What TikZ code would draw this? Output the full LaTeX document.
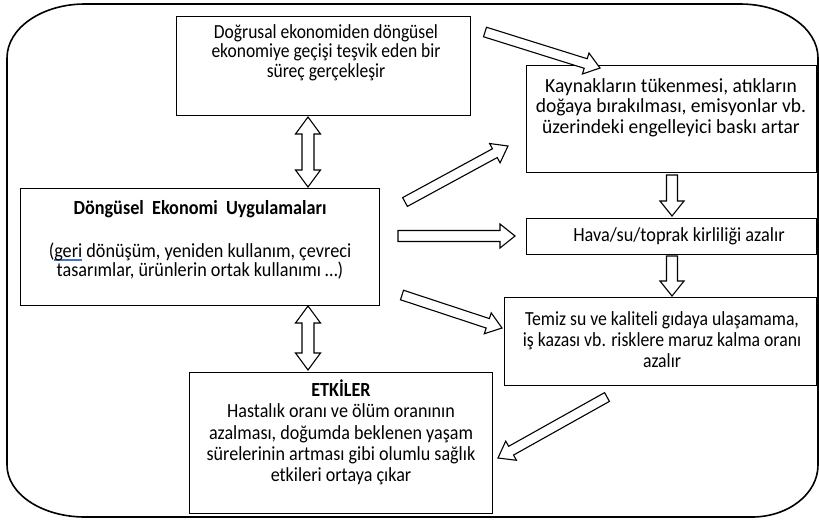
\documentclass[tikz,border=0pt]{standalone}
\usepackage{fontspec}
\setmainfont{Carlito}
\newfontfamily\fa[FakeStretch=0.875]{Carlito}
\newfontfamily\fb[FakeStretch=0.975]{Carlito}
\newfontfamily\fc[FakeStretch=0.91]{Carlito}
\newfontfamily\fd[FakeStretch=0.915]{Carlito}
\newfontfamily\fe[FakeStretch=0.885]{Carlito}
\newfontfamily\ff[FakeStretch=0.905]{Carlito}
\usetikzlibrary{calc}
\definecolor{squig}{HTML}{4472C4}
\newcommand\squigul[1]{\setbox0\hbox{#1}\rlap{\textcolor{squig}{\rule[-3.5pt]{\wd0}{1.2pt}}}#1}
% block arrow: tail, tip, shaft half width, head half width, head length
\newcommand\blockarr[5]{%
  \path ($(#2)!#5!(#1)$) coordinate (bh);
  \draw[barr] ($(#1)!#3!90:(#2)$) -- ($(bh)!#3!90:(#2)$) -- ($(bh)!#4!90:(#2)$) -- (#2)
     -- ($(bh)!#4!-90:(#2)$) -- ($(bh)!#3!-90:(#2)$) -- ($(#1)!#3!-90:(#2)$) -- cycle;}
% double block arrow: end A, end B, shaft half width, head half width, head length
\newcommand\dblarr[5]{%
  \path ($(#1)!#5!(#2)$) coordinate (ha) ($(#2)!#5!(#1)$) coordinate (hb);
  \draw[barr] (#1) -- ($(ha)!#4!90:(#2)$) -- ($(ha)!#3!90:(#2)$) -- ($(hb)!#3!90:(#2)$)
     -- ($(hb)!#4!90:(#2)$) -- (#2) -- ($(hb)!#4!-90:(#2)$) -- ($(hb)!#3!-90:(#2)$)
     -- ($(ha)!#3!-90:(#2)$) -- ($(ha)!#4!-90:(#2)$) -- cycle;}
\tikzset{
  box/.style={draw, line width=1.1pt, rectangle, inner sep=0pt, anchor=north west},
  txt/.style={align=center, inner sep=0pt},
  barr/.style={draw, line width=1.1pt, fill=white, line join=miter},
  frame/.style={draw, line width=1.6pt},
}
\begin{document}
\begin{tikzpicture}[x=1pt,y=-1pt]
\useasboundingbox (0,0) rectangle (819,520);
% outer frame
\draw[frame] (85,4) -- (740,4) .. controls (783,4) and (818,28) .. (818,58)
  -- (818,465) .. controls (818,494) and (788,517) .. (752,517)
  -- (85,517) .. controls (42,517) and (7,494) .. (7,465)
  -- (7,58) .. controls (7,28) and (42,4) .. (85,4) -- cycle;
% boxes
\node[box, minimum width=294pt, minimum height=99pt] (b1) at (176,16) {};
\node[box, minimum width=290pt, minimum height=107pt] (b2) at (526,65) {};
\node[box, minimum width=359pt, minimum height=117pt] (b3) at (20,188) {};
\node[box, minimum width=290pt, minimum height=36pt] (b4) at (526,218) {};
\node[box, minimum width=312pt, minimum height=88pt] (b5) at (504,297) {};
\node[box, minimum width=303pt, minimum height=141pt] (b6) at (189,372) {};
% texts
\node[txt, font=\fa\fontsize{20}{19.5}\selectfont] (t1) at (326,52.5) {Doğrusal ekonomiden döngüsel\\ekonomiye geçişi teşvik eden bir\\süreç gerçekleşir};
\node[txt, font=\fb\fontsize{20}{20.5}\selectfont] (t2) at (671,107.5) {Kaynakların tükenmesi, atıkların\\doğaya bırakılması, emisyonlar vb.\\üzerindeki engelleyici baskı artar};
\node[txt, font=\fc\fontsize{20}{19.5}\selectfont] (t3) at (200,240) {\textbf{Döngüsel\ \ Ekonomi\ \ Uygulamaları}\\[23pt](\squigul{geri} dönüşüm, yeniden kullanım, çevreci\\tasarımlar, ürünlerin ortak kullanımı …)};
\node[txt, font=\fd\fontsize{20}{20}\selectfont] (t4) at (679,236) {Hava/su/toprak kirliliği azalır};
\node[txt, font=\fe\fontsize{20}{21}\selectfont] (t5) at (662,340) {Temiz su ve kaliteli gıdaya ulaşamama,\\iş kazası vb. risklere maruz kalma oranı\\azalır};
\node[txt, font=\ff\fontsize{20}{21.2}\selectfont] (t6) at (341,432.5) {\textbf{ETKİLER}\\Hastalık oranı ve ölüm oranının\\azalması, doğumda beklenen yaşam\\sürelerinin artması gibi olumlu sağlık\\etkileri ortaya çıkar};
% connector end points
\coordinate (a1s) at (485,32);  \coordinate (a1e) at (600,68);
\coordinate (a2s) at (405,202); \coordinate (a2e) at (508,146);
\coordinate (a3s) at (398,236); \coordinate (a3e) at (515,236);
\coordinate (a4s) at (402,295); \coordinate (a4e) at (502,328);
\coordinate (a5s) at (607,397); \coordinate (a5e) at (498,458);
\coordinate (d1s) at (672,175); \coordinate (d1e) at (672,216);
\coordinate (d2s) at (672,256); \coordinate (d2e) at (672,296);
\coordinate (e1a) at (308,117); \coordinate (e1b) at (308,187);
\coordinate (e2a) at (308,306); \coordinate (e2b) at (308,370);
% arrows
\blockarr{a1s}{a1e}{5pt}{11pt}{15pt}
\blockarr{a2s}{a2e}{5pt}{11pt}{15pt}
\blockarr{a3s}{a3e}{5.5pt}{12pt}{15pt}
\blockarr{a4s}{a4e}{5pt}{11pt}{15pt}
\blockarr{a5s}{a5e}{5pt}{11pt}{15pt}
\blockarr{d1s}{d1e}{5.5pt}{12pt}{15pt}
\blockarr{d2s}{d2e}{5.5pt}{12pt}{15pt}
\dblarr{e1a}{e1b}{6pt}{12.5pt}{17pt}
\dblarr{e2a}{e2b}{6pt}{12.5pt}{17pt}
\end{tikzpicture}
\end{document}
